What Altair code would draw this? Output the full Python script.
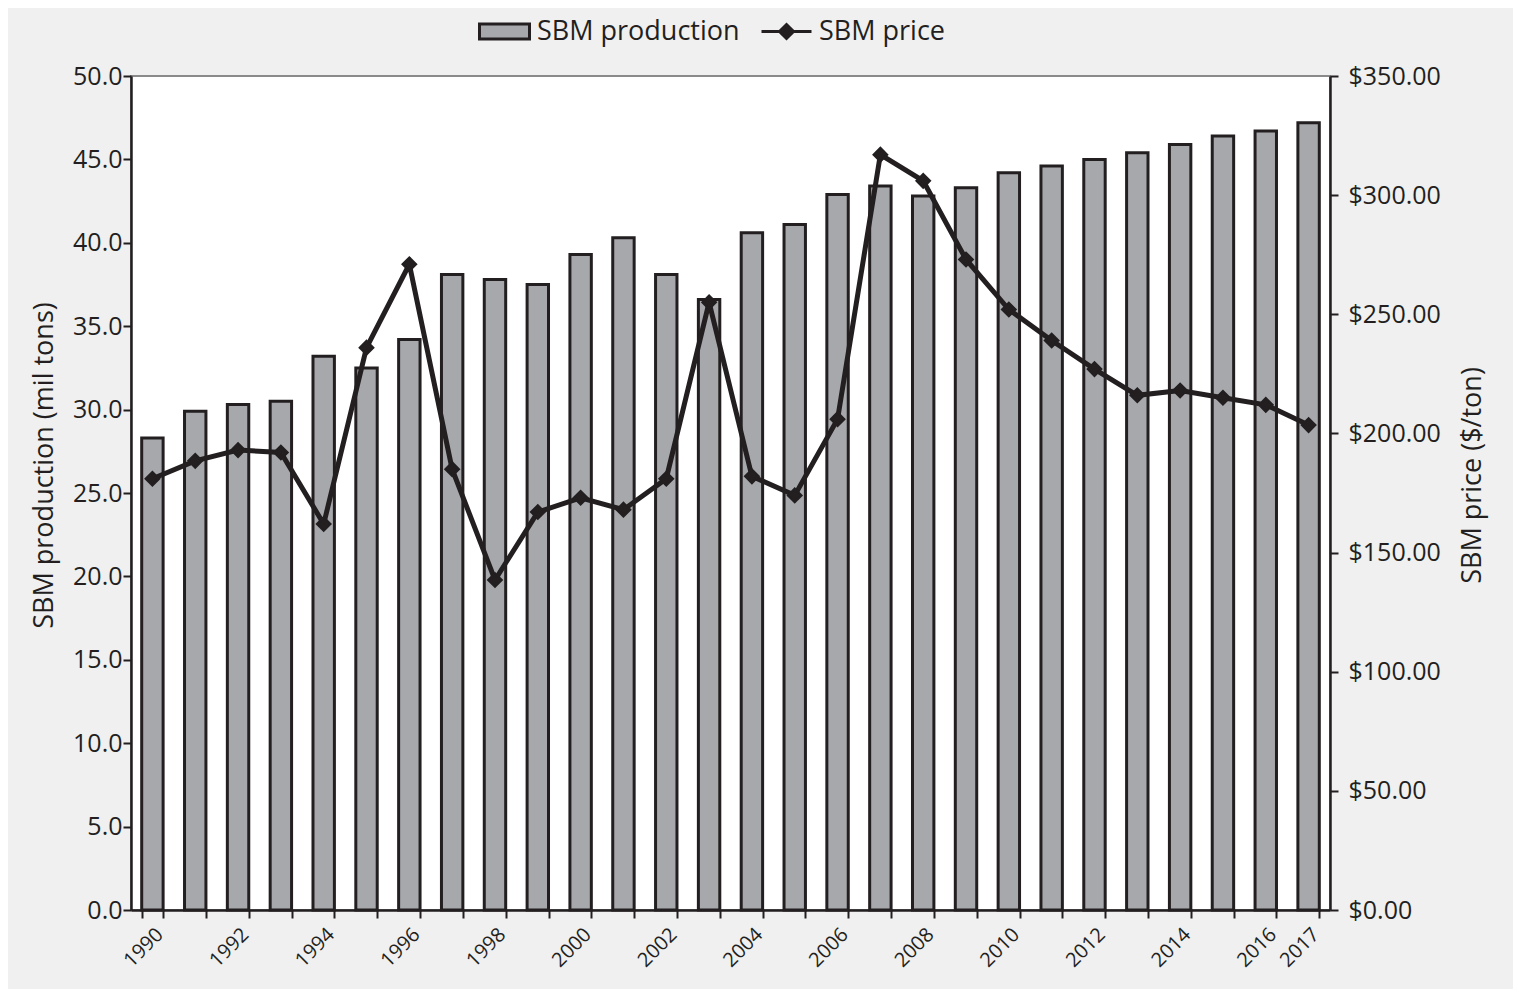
import altair as alt
import pandas as pd

years = list(range(1990, 2018))
production = [28.3, 29.9, 30.3, 30.5, 33.2, 32.5, 34.2, 38.1, 37.8, 37.5,
              39.3, 40.3, 38.1, 36.6, 40.6, 41.1, 42.9, 43.4, 42.8, 43.3,
              44.2, 44.6, 45.0, 45.4, 45.9, 46.4, 46.7, 47.2]
price = [181, 188.5, 193, 192, 162, 236, 271, 185, 138.5, 167,
         173, 168, 181, 255, 182, 174, 206, 317, 306, 273,
         252, 239, 227, 216, 218, 215, 212, 203.5]

df = pd.DataFrame({"year": years, "production": production, "price": price,
                   "s1": "SBM production", "s2": "SBM price"})

FONT = "Open Sans"
INK = "#231f20"

x = alt.X("year:O",
          scale=alt.Scale(paddingInner=0.5, paddingOuter=0.25),
          axis=alt.Axis(title=None, labelAngle=-45, labelFontSize=20,
                        labelExpr="(datum.value % 2 == 0 || datum.value == 2017) ? datum.label : ''",
                        labelOverlap=False, tickBand="extent", tickSize=8,
                        labelPadding=6))

bars = alt.Chart(df).mark_bar(stroke=INK, strokeWidth=3).encode(
    x=x,
    y=alt.Y("production:Q", scale=alt.Scale(domain=[0, 50]),
            axis=alt.Axis(title="SBM production (mil tons)", orient="left",
                          values=[0, 5, 10, 15, 20, 25, 30, 35, 40, 45, 50],
                          format=".1f", labelPadding=1, titlePadding=14, titleY=389)),
    color=alt.Color("s1:N", scale=alt.Scale(range=["#a7a8ac"]),
                    legend=alt.Legend(title=None, orient="none", legendX=360, legendY=-58,
                                      symbolType="M-2.5,-0.75H2.5V0.75H-2.5Z", symbolSize=400,
                                      symbolStrokeColor=INK, symbolStrokeWidth=3,
                                      labelFontSize=27, labelOffset=19, labelLimit=0)),
)

line = alt.Chart(df).mark_line(
    strokeWidth=5,
    point=alt.OverlayMarkDef(shape="diamond", filled=True, size=190, color=INK),
).encode(
    x=x,
    y=alt.Y("price:Q", scale=alt.Scale(domain=[0, 350]),
            axis=alt.Axis(title="SBM price ($/ton)", orient="right",
                          values=[0, 50, 100, 150, 200, 250, 300, 350],
                          format="$.2f", labelPadding=10, titleAngle=270,
                          titleBaseline="middle", titleX=142, titleY=399)),
    stroke=alt.Stroke("s2:N", scale=alt.Scale(range=[INK]),
                      legend=alt.Legend(title=None, orient="none", legendX=642, legendY=-58,
                                        symbolType="M-2.5,0H2.5M0,-0.7L0.7,0L0,0.7L-0.7,0Z",
                                        symbolSize=400, symbolStrokeWidth=3,
                                        symbolFillColor=INK, symbolStrokeColor=INK,
                                        labelFontSize=27, labelOffset=19, labelLimit=0)),
)

chart = alt.layer(bars, line).resolve_scale(y="independent").properties(
    width=1199, height=834,
    padding={"left": 123, "top": 68, "right": 183, "bottom": 79},
    autosize=alt.AutoSizeParams(type="none"),
    background="#f0f0f0",
).configure_view(
    fill="white", stroke="#8a8a8a", strokeWidth=2,
).configure_axis(
    labelFont=FONT, titleFont=FONT, labelColor=INK, titleColor=INK,
    labelFontSize=25, titleFontSize=27, titleFontWeight="normal",
    domainColor=INK, domainWidth=2.5, tickColor=INK, tickWidth=2, tickSize=8,
    grid=False,
).configure_legend(
    labelFont=FONT, labelColor=INK,
)

chart.save("out.html", embed_options={"renderer": "svg", "actions": False})
